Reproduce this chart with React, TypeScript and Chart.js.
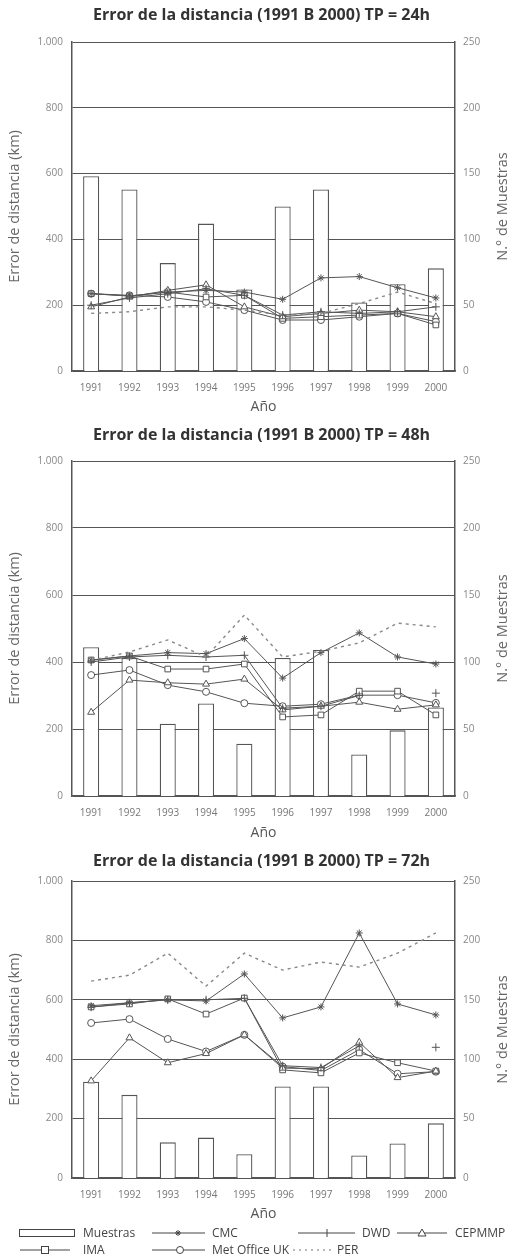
import React, { useEffect, useRef } from "react";
import { Chart, registerables } from "chart.js";

Chart.register(...registerables);

const years = ["1991", "1992", "1993", "1994", "1995", "1996", "1997", "1998", "1999", "2000"];
const leftTicks = [0, 200, 400, 600, 800, 1000];

// TP = 24h
const muestras24 = [148, 138, 82, 112, 62, 125, 138, 52, 66, 78];
const cmc24 = [235, 228, 240, 245, 240, 218, 283, 287, 253, 222];
const dwd24 = [200, 222, 235, 250, 230, 170, 180, 175, 180, 195];
const cepmmp24 = [195, 225, 245, 262, 195, 165, 175, 185, 180, 165];
const jma24 = [235, 228, 240, 225, 230, 160, 165, 170, 175, 140];
const met24 = [235, 230, 225, 210, 185, 155, 155, 165, 175, 150];
const per24 = [175, 180, 195, 195, 185, 170, 175, 205, 240, 205];

// TP = 48h
const muestras48 = [111, 103, 54, 69, 39, 103, 109, 31, 49, 66];
const cmc48 = [405, 418, 428, 425, 470, 352, 428, 487, 415, 394];
const dwd48 = [400, 415, 420, 415, 420, 262, 268, 300, null, 307];
const cepmmp48 = [250, 346, 338, 334, 349, 257, 268, 280, 259, 272];
const jma48 = [406, 418, 379, 379, 394, 236, 242, 313, 313, 242];
const met48 = [361, 376, 331, 311, 277, 268, 274, 301, 301, 278];
const per48 = [405, 430, 466, 415, 540, 415, 432, 457, 516, 505];

// TP = 72h
const muestras72 = [81, 70, 30, 34, 20, 77, 77, 19, 29, 46];
const cmc72 = [580, 590, 600, 596, 687, 539, 576, 825, 586, 549];
const dwd72 = [575, 590, 600, 600, 605, 378, 372, 445, null, 440];
const cepmmp72 = [327, 472, 388, 419, 482, 370, 368, 457, 338, 360];
const jma72 = [576, 586, 603, 552, 606, 364, 354, 421, 388, 360];
const met72 = [522, 535, 468, 426, 482, 375, 362, 432, 351, 358];
const per72 = [663, 683, 757, 646, 757, 700, 727, 710, 757, 825];

const FONT = '"Open Sans", "DejaVu Sans", sans-serif';
const LINE = "#555";
const AXIS = "#555";

const fmtLeft = (v: number) =>
  v >= 1000 ? `${Math.floor(v / 1000)}.${String(v % 1000).padStart(3, "0")}` : String(v);

const rightTitlePlugin = {
  id: "rightTitle",
  afterDraw(chart: any) {
    const { ctx, chartArea } = chart;
    ctx.save();
    ctx.translate(503, (chartArea.top + chartArea.bottom) / 2);
    ctx.rotate(-Math.PI / 2);
    ctx.font = `14.5px ${FONT}`;
    ctx.fillStyle = "#666";
    ctx.textAlign = "center";
    ctx.textBaseline = "middle";
    ctx.fillText("N.° de Muestras", 0, 0);
    ctx.restore();
  },
};

function lineDs(label: string, data: any[], style: string, radius: number, filled: boolean) {
  return {
    type: "line",
    label,
    data,
    yAxisID: "y",
    borderColor: LINE,
    borderWidth: 1,
    pointStyle: style,
    pointRadius: radius,
    pointBorderColor: LINE,
    pointBorderWidth: 1,
    pointBackgroundColor: filled ? LINE : "#fff",
    tension: 0,
    spanGaps: false,
    order: 1,
  };
}

function makeConfig(
  title: string,
  muestras: number[],
  cmc: any[],
  dwd: any[],
  cep: any[],
  jma: any[],
  met: any[],
  per: any[],
  xHeight: number,
  titleBottom: number,
  anoBottom: number
): any {
  return {
    type: "bar",
    data: {
      labels: years,
      datasets: [
        {
          type: "bar",
          label: "Muestras",
          data: muestras,
          yAxisID: "yR",
          backgroundColor: "#fff",
          borderColor: "#555",
          borderWidth: 1.3,
          barPercentage: 0.42,
          categoryPercentage: 1,
          order: 2,
        },
        {
          type: "line",
          label: "PER",
          data: per,
          yAxisID: "y",
          borderColor: "#888",
          borderWidth: 1.4,
          borderDash: [3, 4],
          pointRadius: 0,
          tension: 0,
          order: 1,
        },
        lineDs("CMC", cmc, "star", 3.5, true),
        lineDs("DWD", dwd, "cross", 4, true),
        lineDs("CEPMMP", cep, "triangle", 4, false),
        lineDs("JMA", jma, "rect", 4, false),
        lineDs("Met Office UK", met, "circle", 3.5, false),
      ],
    },
    options: {
      responsive: false,
      animation: false,
      layout: { padding: 0 },
      plugins: {
        legend: { display: false },
        tooltip: { enabled: false },
        title: {
          display: true,
          text: title,
          color: "#333",
          font: { family: FONT, size: 16, weight: "bold" },
          padding: { top: 5.4, bottom: titleBottom },
        },
      },
      scales: {
        x: {
          type: "category",
          offset: true,
          grid: { display: false, drawTicks: false },
          border: { display: true, color: AXIS, width: 1.5 },
          ticks: { color: "#777", font: { family: FONT, size: 10 }, padding: 11, maxRotation: 0, autoSkip: false },
          title: { display: true, text: "Año", color: "#555", font: { family: FONT, size: 14 }, padding: { top: 0, bottom: anoBottom } },
          afterFit(scale: any) {
            scale.height = xHeight;
          },
        },
        y: {
          type: "linear",
          position: "left",
          min: 0,
          max: 1000,
          afterBuildTicks(scale: any) {
            scale.ticks = leftTicks.map((v) => ({ value: v }));
          },
          grid: { color: "#555", lineWidth: 1, drawTicks: false },
          border: { display: true, color: AXIS, width: 1.5 },
          ticks: { color: "#888", font: { family: FONT, size: 10 }, padding: 9, callback: (v: any) => fmtLeft(Number(v)) },
          title: { display: true, text: "Error de distancia (km)", color: "#666", font: { family: FONT, size: 14.5 }, padding: { top: 6.3, bottom: 0 } },
          afterFit(scale: any) {
            scale.width = 72;
          },
        },
        yR: {
          type: "linear",
          position: "right",
          min: 0,
          max: 250,
          ticks: { stepSize: 50, color: "#888", font: { family: FONT, size: 10 }, padding: 8 },
          grid: { display: false, drawTicks: false },
          border: { display: true, color: AXIS, width: 1.5 },
          afterFit(scale: any) {
            scale.width = 68;
          },
        },
      },
    },
    plugins: [rightTitlePlugin],
  };
}

function Legend() {
  const c = "#444";
  const ts = { fontFamily: FONT, fontSize: 12, fill: "#444" } as any;
  const r1 = 11;
  const r2 = 28;
  return (
    <svg width={523} height={34} style={{ position: "absolute", left: 0, top: 1222 }}>
      {/* Muestras */}
      <rect x={19.5} y={r1 - 3.5} width={55} height={7} fill="#fff" stroke={c} strokeWidth={1} />
      <text x={83} y={r1 + 4} style={ts}>Muestras</text>
      {/* CMC */}
      <line x1={152} x2={205} y1={r1} y2={r1} stroke={c} strokeWidth={1} />
      <g stroke={c} strokeWidth={1}>
        <line x1={175} x2={181} y1={r1} y2={r1} />
        <line x1={178} x2={178} y1={r1 - 3} y2={r1 + 3} />
        <line x1={176} x2={180} y1={r1 - 2} y2={r1 + 2} />
        <line x1={176} x2={180} y1={r1 + 2} y2={r1 - 2} />
      </g>
      <text x={212} y={r1 + 4} style={ts}>CMC</text>
      {/* DWD */}
      <line x1={298} x2={355} y1={r1} y2={r1} stroke={c} strokeWidth={1} />
      <line x1={327} x2={327} y1={r1 - 4} y2={r1 + 4} stroke={c} strokeWidth={1} />
      <text x={362} y={r1 + 4} style={ts}>DWD</text>
      {/* CEPMMP */}
      <line x1={397} x2={447} y1={r1} y2={r1} stroke={c} strokeWidth={1} />
      <polygon points={`422,${r1 - 4} 426,${r1 + 3} 418,${r1 + 3}`} fill="#fff" stroke={c} strokeWidth={1} />
      <text x={455} y={r1 + 4} style={ts}>CEPMMP</text>
      {/* JMA */}
      <line x1={20} x2={70} y1={r2} y2={r2} stroke={c} strokeWidth={1} />
      <rect x={41.5} y={r2 - 3.5} width={7} height={7} fill="#fff" stroke={c} strokeWidth={1} />
      <text x={83} y={r2 + 4} style={ts}>JMA</text>
      {/* Met Office UK */}
      <line x1={152} x2={205} y1={r2} y2={r2} stroke={c} strokeWidth={1} />
      <circle cx={180} cy={r2} r={3.5} fill="#fff" stroke={c} strokeWidth={1} />
      <text x={212} y={r2 + 4} style={ts}>Met Office UK</text>
      {/* PER */}
      <line x1={293} x2={333} y1={r2} y2={r2} stroke="#777" strokeWidth={1.2} strokeDasharray="2 4" />
      <text x={337} y={r2 + 4} style={ts}>PER</text>
    </svg>
  );
}

export default function App() {
  const ref1 = useRef<HTMLCanvasElement>(null);
  const ref2 = useRef<HTMLCanvasElement>(null);
  const ref3 = useRef<HTMLCanvasElement>(null);

  useEffect(() => {
    const charts = [
      new Chart(
        ref1.current as HTMLCanvasElement,
        makeConfig("Error de la distancia (1991 B 2000) TP = 24h", muestras24, cmc24, dwd24, cepmmp24, jma24, met24, per24, 49, 17.4, 4.6)
      ),
      new Chart(
        ref2.current as HTMLCanvasElement,
        makeConfig("Error de la distancia (1991 B 2000) TP = 48h", muestras48, cmc48, dwd48, cepmmp48, jma48, met48, per48, 50, 16.4, 4.6)
      ),
      new Chart(
        ref3.current as HTMLCanvasElement,
        makeConfig("Error de la distancia (1991 B 2000) TP = 72h", muestras72, cmc72, dwd72, cepmmp72, jma72, met72, per72, 47, 10.4, 2.6)
      ),
    ];
    return () => charts.forEach((c) => c.destroy());
  }, []);

  return (
    <div style={{ position: "absolute", left: 0, top: 0, width: 523, height: 1254, background: "#fff", overflow: "hidden" }}>
      <canvas ref={ref1} width={523} height={420} style={{ position: "absolute", left: 0, top: 0, width: 523, height: 420 }} />
      <canvas ref={ref2} width={523} height={426} style={{ position: "absolute", left: 0, top: 420, width: 523, height: 426 }} />
      <canvas ref={ref3} width={523} height={379} style={{ position: "absolute", left: 0, top: 846, width: 523, height: 379 }} />
      <Legend />
    </div>
  );
}
